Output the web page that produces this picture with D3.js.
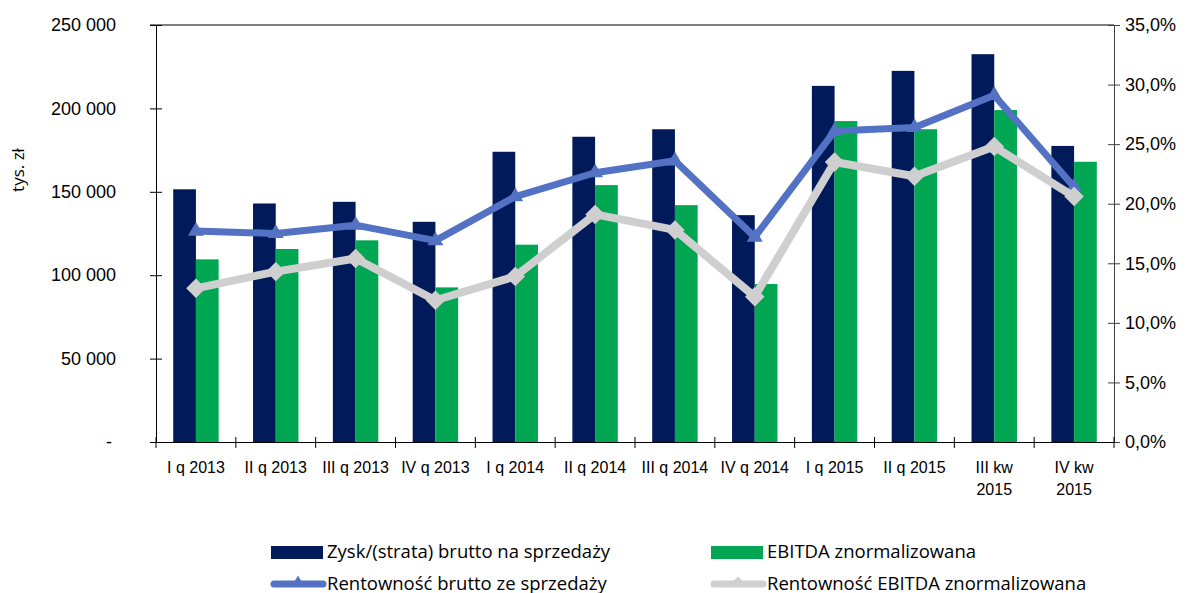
<!DOCTYPE html>
<html>
<head>
<meta charset="utf-8">
<script src="https://cdn.jsdelivr.net/npm/d3@7"></script>
<style>
  body { margin: 0; background: #fff; }
  svg { font-family: "Open Sans", "Noto Sans", sans-serif; }
</style>
</head>
<body>
<svg id="chart" width="1190" height="593"></svg>
<script>
// data
const categories = ["I q 2013", "II q 2013", "III q 2013", "IV q 2013", "I q 2014", "II q 2014",
  "III q 2014", "IV q 2014", "I q 2015", "II q 2015", "III kw\n2015", "IV kw\n2015"];
const zyskBrutto = [151500, 143000, 144000, 132000, 174000, 183000, 187500, 136000, 213500, 222500, 232500, 177500];
const ebitdaNorm = [109500, 115700, 120900, 92700, 118300, 154000, 142000, 94700, 192400, 187500, 199000, 168000];
const rentBrutto = [17.7, 17.5, 18.2, 16.9, 20.6, 22.6, 23.6, 17.2, 26.1, 26.4, 29.1, 21.4];
const rentEbitda = [12.9, 14.3, 15.4, 11.9, 13.9, 19.1, 17.8, 12.2, 23.5, 22.3, 24.8, 20.6];
const leftTicks = [0, 50000, 100000, 150000, 200000, 250000];
const rightTicks = [0, 5, 10, 15, 20, 25, 30, 35];

const colors = { zysk: "#001A5A", ebitda: "#00A651", rentB: "#5472C4", rentE: "#D0CFCF" };

const svg = d3.select("#chart");
const m = { left: 156, right: 1114, top: 25, bottom: 442 };

const x = d3.scaleBand().domain(categories).range([m.left, m.right]).padding(0);
const xs = d3.scaleBand().domain(["zysk", "ebitda"]).range([0, x.bandwidth()]).paddingInner(0).paddingOuter(0.757);
const yL = d3.scaleLinear().domain([0, 250000]).range([m.bottom, m.top]);
const yR = d3.scaleLinear().domain([0, 35]).range([m.bottom, m.top]);

// bars
const g = svg.append("g");
categories.forEach((c, i) => {
  g.append("rect").attr("x", x(c) + xs("zysk")).attr("y", yL(zyskBrutto[i]))
    .attr("width", xs.bandwidth()).attr("height", yL(0) - yL(zyskBrutto[i])).attr("fill", colors.zysk);
  g.append("rect").attr("x", x(c) + xs("ebitda")).attr("y", yL(ebitdaNorm[i]))
    .attr("width", xs.bandwidth()).attr("height", yL(0) - yL(ebitdaNorm[i])).attr("fill", colors.ebitda);
});

// top border
svg.append("line").attr("x1", m.left - 6).attr("x2", m.right).attr("y1", m.top).attr("y2", m.top)
  .attr("stroke", "#000").attr("stroke-width", 1);

// left axis
const axL = svg.append("g").attr("transform", `translate(${m.left},0)`)
  .call(d3.axisLeft(yL).tickValues(leftTicks).tickSize(6)
    .tickFormat(d => d === 0 ? "-" : d3.format(",")(d).replace(/,/g, " ")));
axL.select(".domain").attr("stroke", "#000");
axL.selectAll(".tick line").attr("x2", 6).attr("x1", -6).attr("stroke", "#000");
axL.selectAll("text").attr("x", -40).attr("font-size", 18).attr("fill", "#000");
axL.selectAll(".tick").filter(d => d === 0).select("text").attr("x", -44);

// right axis
const axR = svg.append("g").attr("transform", `translate(${m.right},0)`)
  .call(d3.axisRight(yR).tickValues(rightTicks).tickSize(6)
    .tickFormat(d => d3.format(".1f")(d).replace(".", ",") + "%"));
axR.select(".domain").attr("stroke", "#404040");
axR.selectAll(".tick line").attr("x1", -6).attr("x2", 6).attr("stroke", "#404040");
axR.selectAll("text").attr("x", 11).attr("font-size", 18).attr("fill", "#000");

// bottom axis
const axB = svg.append("g").attr("transform", `translate(0,${m.bottom})`)
  .call(d3.axisBottom(x).tickSize(0).tickFormat(""));
axB.select(".domain").attr("stroke", "#000");
const tickPos = categories.map(c => x(c)).concat([m.right]);
axB.selectAll(".xt").data(tickPos).enter().append("line").attr("class", "xt")
  .attr("x1", d => d).attr("x2", d => d).attr("y1", -5).attr("y2", 6).attr("stroke", "#000");
categories.forEach(c => {
  const lines = c.split("\n");
  const t = axB.append("text").attr("text-anchor", "middle").attr("font-size", 16).attr("fill", "#000")
    .attr("x", x(c) + x.bandwidth() / 2).attr("y", 31);
  lines.forEach((l, j) => t.append("tspan").attr("x", x(c) + x.bandwidth() / 2).attr("dy", j ? 22 : 0).text(l));
});

// y title
svg.append("text").attr("transform", "translate(24,170) rotate(-90)").attr("text-anchor", "middle")
  .attr("font-size", 17).attr("fill", "#000").text("tys. zł");

// lines
const cx = c => x(c) + x.bandwidth() / 2;
function drawLine(vals, color, width, symbol, size, rot) {
  const line = d3.line().x((d, i) => cx(categories[i])).y(d => yR(d));
  svg.append("path").datum(vals).attr("d", line).attr("fill", "none")
    .attr("stroke", color).attr("stroke-width", width).attr("stroke-linejoin", "round");
  svg.selectAll(null).data(vals).enter().append("path")
    .attr("d", d3.symbol().type(symbol).size(size))
    .attr("transform", (d, i) => `translate(${cx(categories[i])},${yR(d)}) rotate(${rot})`)
    .attr("fill", color);
}
drawLine(rentBrutto, colors.rentB, 7, d3.symbolTriangle, 110, 0);
drawLine(rentEbitda, colors.rentE, 8, d3.symbolSquare, 190, 45);

// legend
const leg = svg.append("g").attr("font-size", 18.5).attr("fill", "#000");
const legItems = [
  { type: "bar", color: colors.zysk, label: "Zysk/(strata) brutto na sprzedaży", x: 271, y: 552 },
  { type: "bar", color: colors.ebitda, label: "EBITDA znormalizowana", x: 711, y: 552 },
  { type: "line", color: colors.rentB, label: "Rentowność brutto ze sprzedaży", x: 271, y: 584, sym: d3.symbolTriangle, rot: 0 },
  { type: "line", color: colors.rentE, label: "Rentowność EBITDA znormalizowana", x: 711, y: 584, sym: d3.symbolSquare, rot: 45 }
];
legItems.forEach(it => {
  if (it.type === "bar") {
    leg.append("rect").attr("x", it.x).attr("y", it.y - 6).attr("width", 52).attr("height", 13).attr("fill", it.color);
  } else {
    leg.append("line").attr("x1", it.x + 3).attr("x2", it.x + 52).attr("y1", it.y).attr("y2", it.y)
      .attr("stroke", it.color).attr("stroke-width", 7).attr("stroke-linecap", "round");
    leg.append("path").attr("d", d3.symbol().type(it.sym).size(40))
      .attr("transform", `translate(${it.x + 27},${it.y - 3}) rotate(${it.rot})`).attr("fill", it.color);
  }
  leg.append("text").attr("x", it.x + 56).attr("y", it.y + 6).text(it.label);
});
</script>
</body>
</html>
